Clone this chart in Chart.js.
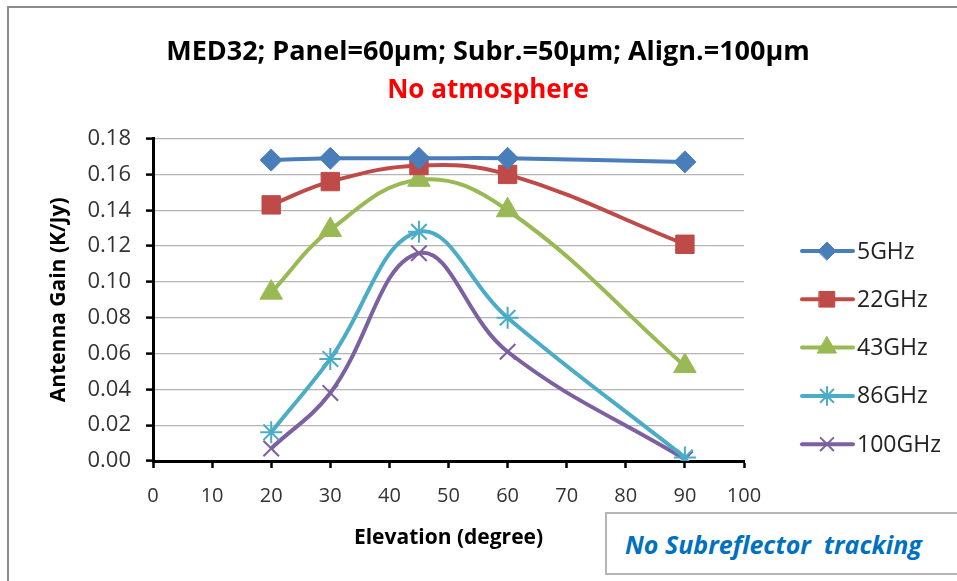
<!DOCTYPE html>
<html>
<head>
<meta charset="utf-8">
<script src="https://cdn.jsdelivr.net/npm/chart.js@4.4.0/dist/chart.umd.min.js"></script>
<style>
  html, body { margin: 0; padding: 0; background: #fff; }
  #wrap { position: relative; width: 957px; height: 581px; overflow: hidden; }
  #frame { position: absolute; left: 7px; top: 6px; width: 1000px; height: 1000px;
           border-left: 2px solid #8c8c8c; border-top: 2px solid #8c8c8c; }
  #note { position: absolute; left: 605px; top: 512px; width: 400px; height: 63px;
          border: 2px solid #b5b5b5; background: #fff;
          font: italic bold 25px "Open Sans", sans-serif; color: #0070c0;
          line-height: 61px; padding-left: 18px; box-sizing: border-box; white-space: pre; }
  canvas { position: absolute; left: 0; top: 0; }
</style>
</head>
<body>
<div id="wrap">
  <div id="frame"></div>
  <canvas id="myChart" width="957" height="581"></canvas>
  <div id="note">No Subreflector  tracking</div>
</div>
<script>
// elevation angles (degree)
const elevation = [20, 30, 45, 60, 90];

// antenna gain (K/Jy) per frequency
const gain5 = [0.168, 0.169, 0.169, 0.169, 0.167];
const gain22 = [0.143, 0.156, 0.165, 0.160, 0.121];
const gain43 = [0.094, 0.129, 0.157, 0.140, 0.053];
const gain86 = [0.016, 0.057, 0.128, 0.080, 0.002];
const gain100 = [0.007, 0.038, 0.116, 0.061, 0.001];

const seriesNames = ['5GHz', '22GHz', '43GHz', '86GHz', '100GHz'];
const seriesColors = ['#4a7ebb', '#be4b48', '#98b954', '#4bacc6', '#7d60a0'];
const seriesMarkers = ['rectRot', 'rect', 'triangle', 'star', 'crossRot'];
const seriesValues = [gain5, gain22, gain43, gain86, gain100];
const markerSizes = [11, 13, 13, 11, 11];

const font = '"Open Sans", sans-serif';

function toPoints(values) {
    return elevation.map((x, i) => ({ x: x, y: values[i] }));
}

const datasets = seriesNames.map((name, i) => ({
    label: name,
    data: toPoints(seriesValues[i]),
    borderColor: seriesColors[i],
    backgroundColor: seriesColors[i],
    borderWidth: 4,
    showLine: true,
    tension: 0.4,
    pointStyle: seriesMarkers[i],
    pointRadius: markerSizes[i],
    pointBorderWidth: (i >= 3) ? 2 : 1,
    pointBorderColor: seriesColors[i],
    pointBackgroundColor: seriesColors[i]
}));

// legend on the right: line with marker, like the spreadsheet one
const sideLegend = {
    id: 'sideLegend',
    afterDraw(chart) {
        const ctx = chart.ctx;
        ctx.save();
        chart.data.datasets.forEach((ds, i) => {
            const y = 251 + i * 48.3;
            ctx.strokeStyle = ds.borderColor;
            ctx.lineWidth = 4;
            ctx.lineCap = 'round';
            ctx.beginPath();
            ctx.moveTo(802, y);
            ctx.lineTo(853, y);
            ctx.stroke();
            ctx.fillStyle = ds.borderColor;
            ctx.strokeStyle = ds.borderColor;
            ctx.lineWidth = ds.pointBorderWidth;
            Chart.helpers.drawPoint(ctx, {
                pointStyle: ds.pointStyle,
                radius: ds.pointRadius - 2,
                borderWidth: ds.pointBorderWidth,
                rotation: 0
            }, 827, y);
            ctx.fillStyle = '#222';
            ctx.font = '23px ' + font;
            ctx.textBaseline = 'middle';
            ctx.textAlign = 'left';
            ctx.fillText(ds.label, 857, y + 1);
        });
        ctx.restore();
    }
};

const ctx = document.getElementById('myChart');

const chart = new Chart(ctx, {
    type: 'scatter',
    data: { datasets: datasets },
    options: {
        responsive: false,
        animation: false,
        layout: { padding: { left: 19, right: 0, top: 0, bottom: 0 } },
        plugins: {
            legend: { display: false },
            tooltip: { enabled: false },
            title: {
                display: true,
                text: 'MED32; Panel=60µm; Subr.=50µm; Align.=100µm',
                color: '#000',
                font: { family: font, size: 27, weight: 'bold', lineHeight: 1.2 },
                padding: { top: 36, bottom: 0 }
            },
            subtitle: {
                display: true,
                text: 'No atmosphere',
                color: '#ff0000',
                font: { family: font, size: 26, weight: 'bold', lineHeight: 1.2 },
                padding: { top: 7, bottom: 32 }
            }
        },
        scales: {
            x: {
                type: 'linear',
                min: 0,
                max: 100,
                ticks: { stepSize: 10, color: '#333', font: { family: font, size: 20 }, padding: 16, maxRotation: 0 },
                grid: { drawOnChartArea: false, drawTicks: true, tickLength: 7, tickWidth: 2.5, tickColor: '#000' },
                border: { color: '#000', width: 3 },
                title: {
                    display: true,
                    text: 'Elevation (degree)',
                    color: '#000',
                    font: { family: font, size: 21, weight: 'bold' },
                    padding: { top: 0, bottom: 30 }
                },
                afterFit(scale) { scale.height = 120; }
            },
            y: {
                min: 0,
                max: 0.18,
                ticks: {
                    stepSize: 0.02,
                    color: '#333',
                    font: { family: font, size: 22 },
                    padding: 15,
                    callback: v => v.toFixed(2)
                },
                grid: { color: '#b4b4b4', lineWidth: 1.2, tickLength: 7, tickWidth: 2.5, tickColor: '#000' },
                border: { color: '#000', width: 3 },
                title: {
                    display: true,
                    text: 'Antenna Gain (K/Jy)',
                    color: '#000',
                    font: { family: font, size: 21, weight: 'bold' },
                    padding: { top: 27, bottom: 0 }
                },
                afterFit(scale) { scale.width = 134; }
            },
            // empty axis that keeps room on the right for the legend
            side: {
                type: 'linear',
                position: 'right',
                display: true,
                ticks: { display: false },
                grid: { display: false, drawTicks: false },
                border: { display: false },
                afterFit(scale) { scale.width = 213; }
            }
        }
    },
    plugins: [sideLegend]
});
</script>
</body>
</html>
